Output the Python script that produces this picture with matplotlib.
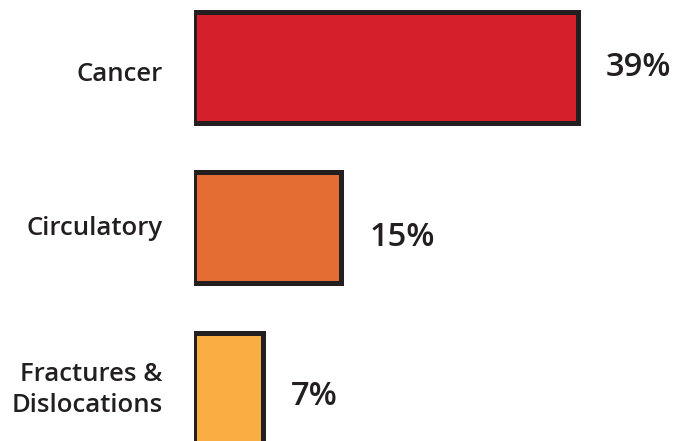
import matplotlib
matplotlib.use("Agg")
import matplotlib.pyplot as plt

categories = ["Cancer", "Circulatory", "Fractures &\nDislocations"]
values = [39, 15, 7]
value_labels = ["39%", "15%", "7%"]
colors = ["#d51f2b", "#e36d33", "#f9ad42"]

EDGE = "#231f20"
TEXT = "#231f20"
FONT = ["Open Sans", "DejaVu Sans"]

W, H, DPI = 690, 441, 100
fig = plt.figure(figsize=(W / DPI, H / DPI), dpi=DPI)
fig.patch.set_facecolor("white")

left_px = 193.8
ax = fig.add_axes([left_px / W, 0, 1 - left_px / W, 1])
px_per_unit = (577.5 - left_px) / 39.0
ax.set_xlim(0, (W - left_px) / px_per_unit)
spacing = 160.0
ax.set_ylim((H - 68) / spacing, -68 / spacing)

ypos = list(range(len(categories)))
ax.barh(ypos, values, height=111 / spacing, color=colors,
        edgecolor=EDGE, linewidth=3.6, zorder=2)

# value labels to the right of each bar
val_nudges_pt = [0, -7, -6]
for y, v, lab, dy in zip(ypos, values, value_labels, val_nudges_pt):
    ax.annotate(lab, xy=(v, y), xytext=(20, dy), textcoords="offset points",
                ha="left", va="center", fontsize=23.5, fontweight="semibold",
                color=TEXT, family=FONT, annotation_clip=False)

# category labels to the left of the axis
cat_nudges_pt = [-4.5, -0.5, -1.5]
for y, cat, dy in zip(ypos, categories, cat_nudges_pt):
    ax.annotate(cat, xy=(0, y), xytext=(-22.5, dy), textcoords="offset points",
                ha="right", va="center", multialignment="right",
                fontsize=18.5, fontweight="semibold", color=TEXT,
                family=FONT, linespacing=1.32, annotation_clip=False)

ax.set_yticks([])
ax.set_xticks([])
for s in ax.spines.values():
    s.set_visible(False)
ax.set_facecolor("none")

fig.savefig("out.png", dpi=DPI, facecolor="white")
